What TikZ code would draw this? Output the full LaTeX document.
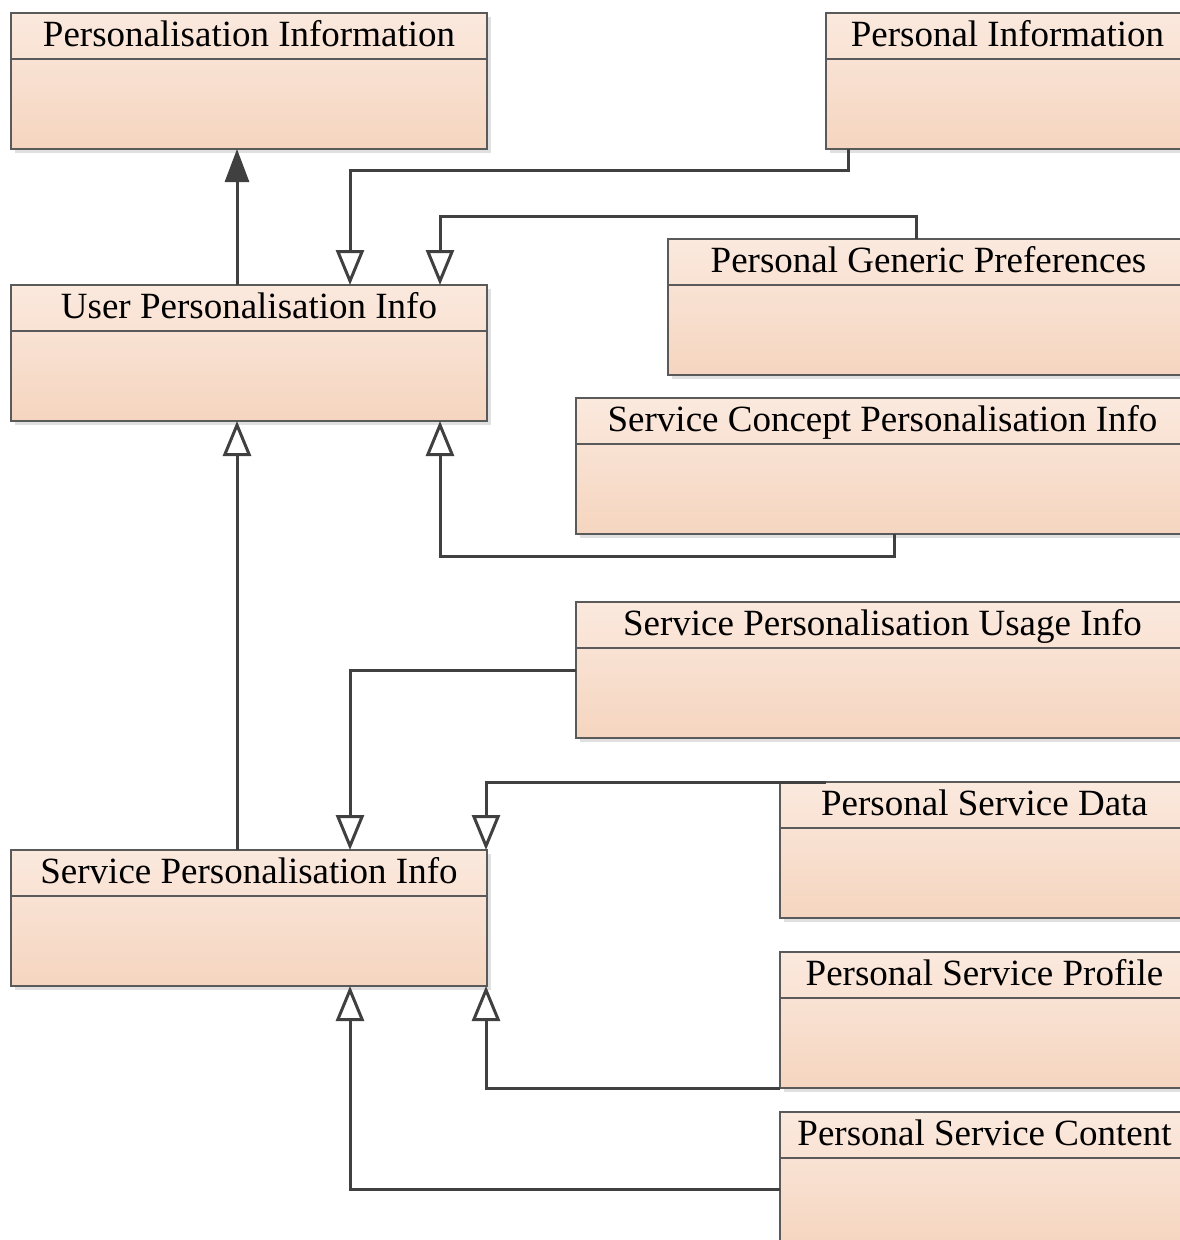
\documentclass[tikz,border=0pt]{standalone}
\usepackage{fontspec}
\setmainfont{Liberation Serif}
\usetikzlibrary{arrows.meta,calc,shadows}
\definecolor{boxtop}{HTML}{FBE9DE}
\definecolor{boxbot}{HTML}{F5D5BF}
\definecolor{boxline}{HTML}{5A5A5A}
\definecolor{conn}{HTML}{404040}
\tikzset{
  classbox/.style={draw=boxline, line width=1.4pt, top color=boxtop, bottom color=boxbot,
    anchor=north west, minimum height=136pt, inner sep=0pt, outer sep=0pt,
    drop shadow={shadow xshift=4pt, shadow yshift=-4pt, fill=black!12, opacity=1}},
  divider/.style={draw=boxline, line width=1.4pt},
  title/.style={anchor=base, inner sep=0pt, font=\fontsize{37}{40}\selectfont},
  gen/.style={draw=conn, line width=3pt, -{Triangle[open, width=28pt, length=35pt, line width=3pt]}},
  assoc/.style={draw=conn, line width=3pt, -{Triangle[width=24pt, length=33pt]}},
}
\newcommand\umlclass[5]{%
  \node[classbox, minimum width=#4pt] (#1) at (#2,#3) {};
  \draw[divider] ($(#1.north west)+(0,46)$) -- ($(#1.north east)+(0,46)$);
  \node[title] (#1-t) at ($(#1.north)+(0,33)$) {#5};
}
\begin{document}
\begin{tikzpicture}[x=1pt,y=-1pt]
\useasboundingbox (0,0) rectangle (1180,1240);
\clip (0,0) rectangle (1180,1240);
\umlclass{pi}{11}{13}{476}{Personalisation Information}
\umlclass{pinfo}{826}{13}{363}{Personal Information}
\umlclass{upi}{11}{285}{476}{User Personalisation Info}
\umlclass{pgp}{668}{239}{521}{Personal Generic Preferences}
\umlclass{scpi}{576}{398}{613}{Service Concept Personalisation Info}
\umlclass{spui}{576}{602}{613}{Service Personalisation Usage Info}
\umlclass{psd}{780}{782}{409}{Personal Service Data}
\umlclass{spi}{11}{850}{476}{Service Personalisation Info}
\umlclass{psp}{780}{952}{409}{Personal Service Profile}
\umlclass{psc}{780}{1112}{409}{Personal Service Content}

\draw[assoc] ($(upi.north west)+(226,0)$) -- ($(pi.south west)+(226,0)$);
\draw[gen] ($(pinfo.south west)+(22,0)$) -- ++(0,21) -| ($(upi.north west)+(339,0)$);
\draw[gen] ($(pgp.north west)+(248,0)$) -- ++(0,-23) -| ($(upi.north west)+(429,0)$);
\draw[gen] ($(scpi.south west)+(318,0)$) -- ++(0,22) -| ($(upi.south west)+(429,0)$);
\draw[gen] ($(spi.north west)+(226,0)$) -- ($(upi.south west)+(226,0)$);
\draw[gen] (spui.west) -| ($(spi.north west)+(339,0)$);
\draw[gen] ($(psd.north west)+(46,0)$) -| ($(spi.north east)+(-1,0)$);
\draw[gen] (psp.south west) -| ($(spi.south east)+(-1,0)$);
\draw[gen] ($(psc.north west)+(0,77)$) -| ($(spi.south west)+(339,0)$);
\end{tikzpicture}
\end{document}
